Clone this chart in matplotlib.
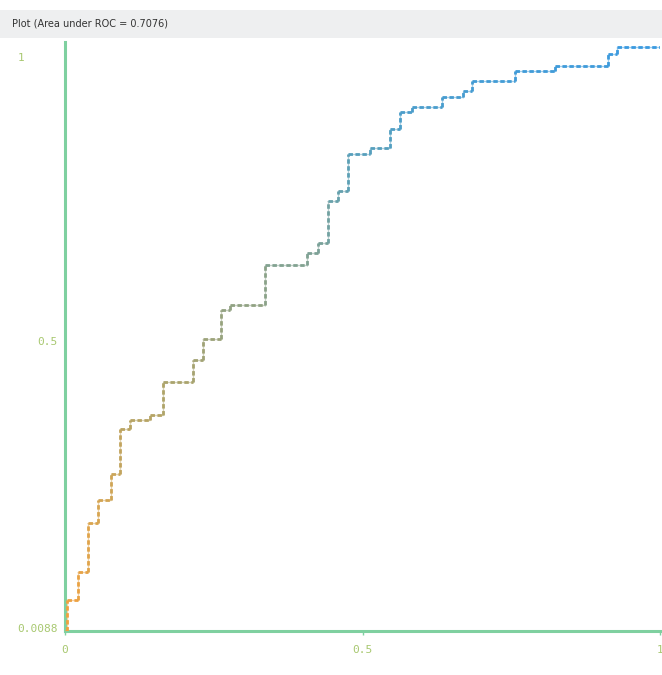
import numpy as np
import matplotlib
matplotlib.use('Agg')
import matplotlib.pyplot as plt
from matplotlib.collections import LineCollection
from matplotlib.colors import LinearSegmentedColormap
from matplotlib.patches import Rectangle

# ROC step curve (false positive rate, true positive rate)
fpr = [0.000, 0.003, 0.022, 0.039, 0.055, 0.077, 0.092, 0.109, 0.143, 0.165,
       0.215, 0.232, 0.262, 0.277, 0.336, 0.407, 0.425, 0.442, 0.459, 0.476,
       0.513, 0.546, 0.563, 0.583, 0.634, 0.669, 0.684, 0.756, 0.824, 0.913,
       0.928, 1.000]
tpr = [0.0088, 0.061, 0.109, 0.192, 0.231, 0.275, 0.352, 0.367, 0.376, 0.432,
       0.469, 0.505, 0.554, 0.562, 0.630, 0.651, 0.668, 0.738, 0.755, 0.818,
       0.828, 0.861, 0.890, 0.898, 0.915, 0.925, 0.942, 0.959, 0.968, 0.988,
       1.000, 1.000]
auc = 0.7076

xticks = [0, 0.5, 1]
xticklabels = ['0', '0.5', '1']
yticks = [0.0088, 0.5, 1]
yticklabels = ['0.0088', '0.5', '1']

# build step path: vertical rise at each fpr, then horizontal run
xs, ys = [fpr[0]], [tpr[0]]
for i in range(1, len(fpr)):
    xs.append(fpr[i]); ys.append(ys[-1])
    xs.append(fpr[i]); ys.append(tpr[i])
pts = np.column_stack([xs, ys])
segs = np.stack([pts[:-1], pts[1:]], axis=1)
segs = segs[np.any(segs[:, 0] != segs[:, 1], axis=1)]
tvals = segs.mean(axis=1)[:, 1]

cmap = LinearSegmentedColormap.from_list(
    'roc', ['#f5a03c', '#d9a550', '#b0a468', '#8aa28a', '#5aa0b8', '#3a9ae0'])

fig = plt.figure(figsize=(6.62, 6.75), dpi=100)
# title band
fig.patches.append(Rectangle((0, 1 - 38 / 675), 1, 28 / 675, transform=fig.transFigure,
                             facecolor='#eeeff0', edgecolor='none', zorder=0))
fig.text(12 / 662, 1 - 24 / 675, 'Plot (Area under ROC = %.4f)' % auc,
         fontsize=7, color='#333333', va='center', ha='left',
         family=['Liberation Sans Narrow', 'DejaVu Sans'])

ax = fig.add_axes([65 / 662, 1 - 631 / 675, 595 / 662, (631 - 42) / 675])
ax.set_xlim(0, 1)
ax.set_ylim(0.0088, 1.0085)

# light underlayer plus dotted top layer
lc0 = LineCollection(segs, cmap=cmap, linewidths=1.0, alpha=0.5, zorder=2)
lc0.set_array(tvals); lc0.set_clim(0.0, 1.0)
ax.add_collection(lc0)
lc = LineCollection(segs, cmap=cmap, linewidths=2.0, linestyles=(0, (1.6, 0.9)), zorder=3)
lc.set_array(tvals); lc.set_clim(0.0, 1.0)
ax.add_collection(lc)

for s in ['top', 'right']:
    ax.spines[s].set_visible(False)
for s in ['left', 'bottom']:
    ax.spines[s].set_color('#7fd0a0')
    ax.spines[s].set_linewidth(2.2)

ax.set_xticks(xticks)
ax.set_xticklabels(xticklabels, family='DejaVu Sans Mono', fontsize=8, color='#a8c870')
ax.tick_params(axis='x', length=3, width=1, color='#7fd0a0', pad=7)
ax.set_yticks([])

ytx = [-0.012, -0.012, -0.079]
yha = ['right', 'right', 'left']
yoff = [0.004, 0.0, -0.018]
for v, lab, x, ha, o in zip(yticks, yticklabels, ytx, yha, yoff):
    ax.text(x, v + o, lab, transform=ax.get_yaxis_transform(), ha=ha, va='center',
            family='DejaVu Sans Mono', fontsize=8, color='#a8c870', clip_on=False)

fig.savefig('out.png', dpi=100)
